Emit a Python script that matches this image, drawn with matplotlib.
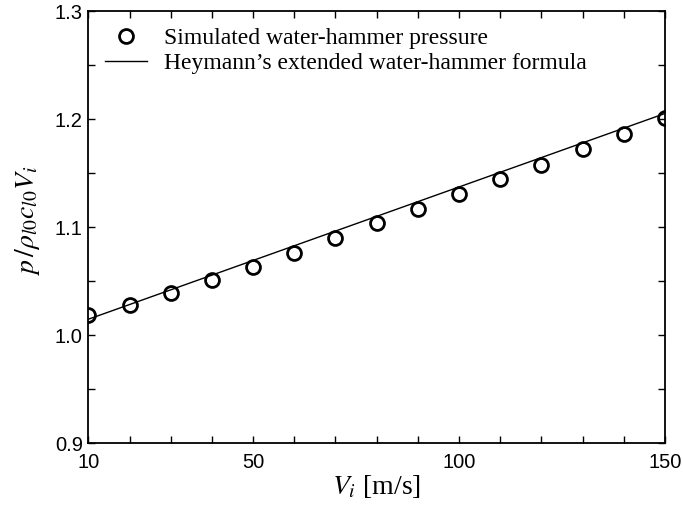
import matplotlib
matplotlib.use("Agg")
import matplotlib.pyplot as plt
from matplotlib.ticker import MultipleLocator, FixedLocator

# simulated points
v_sim = [10, 20, 30, 40, 50, 60, 70, 80, 90, 100, 110, 120, 130, 140, 150]
p_sim = [1.0188, 1.0278, 1.0389, 1.0512, 1.0636, 1.0765, 1.0898, 1.1034,
         1.1167, 1.1306, 1.1444, 1.1577, 1.1719, 1.1861, 1.2006]

# Heymann's formula line (straight), end values
v_line = [10, 150]
p_line = [1.0148, 1.2052]

x_ticks = [10, 50, 100, 150]
y_ticks = [0.9, 1.0, 1.1, 1.2, 1.3]

plt.rcParams['mathtext.fontset'] = 'stix'

fig = plt.figure(figsize=(6.83, 5.07), dpi=100)
ax = fig.add_axes([0.1293, 0.1256, 0.8444, 0.8527])

ax.plot(v_sim, p_sim, linestyle='none', marker='o', markersize=10,
        markerfacecolor='none', markeredgecolor='black', markeredgewidth=2,
        label='Simulated water-hammer pressure')
ax.plot(v_line, p_line, color='black', linewidth=1.0,
        label="Heymann\u2019s extended water-hammer formula")

ax.set_xlim(10, 150)
ax.set_ylim(0.9, 1.3)
ax.xaxis.set_major_locator(FixedLocator(x_ticks))
ax.xaxis.set_minor_locator(MultipleLocator(10))
ax.yaxis.set_major_locator(FixedLocator(y_ticks))
ax.yaxis.set_minor_locator(MultipleLocator(0.05))
ax.set_yticklabels([f'{t:.1f}' for t in y_ticks])

ax.tick_params(which='both', direction='in', top=True, right=True,
               labelsize=14.5, width=1.0, length=5)
ax.tick_params(axis='x', which='major', pad=7)
ax.tick_params(axis='y', which='major', pad=4)
for lab in ax.get_xticklabels() + ax.get_yticklabels():
    lab.set_family('Liberation Sans')
for s in ax.spines.values():
    s.set_linewidth(1.3)

ax.set_xlabel(r'$V_i$ [m/s]', fontsize=20, family='Liberation Serif', labelpad=1)
ax.set_ylabel(r'$p\,/\rho_{l0}c_{l0}V_i$', fontsize=20, labelpad=9)
ax.yaxis.label.set_y(0.515)

ax.legend(loc='upper left', frameon=False, handlelength=1.8, handletextpad=0.7,
          borderaxespad=0.3, labelspacing=0.15,
          prop={'family': 'Liberation Serif', 'size': 17})

fig.savefig('out.png', dpi=100)
